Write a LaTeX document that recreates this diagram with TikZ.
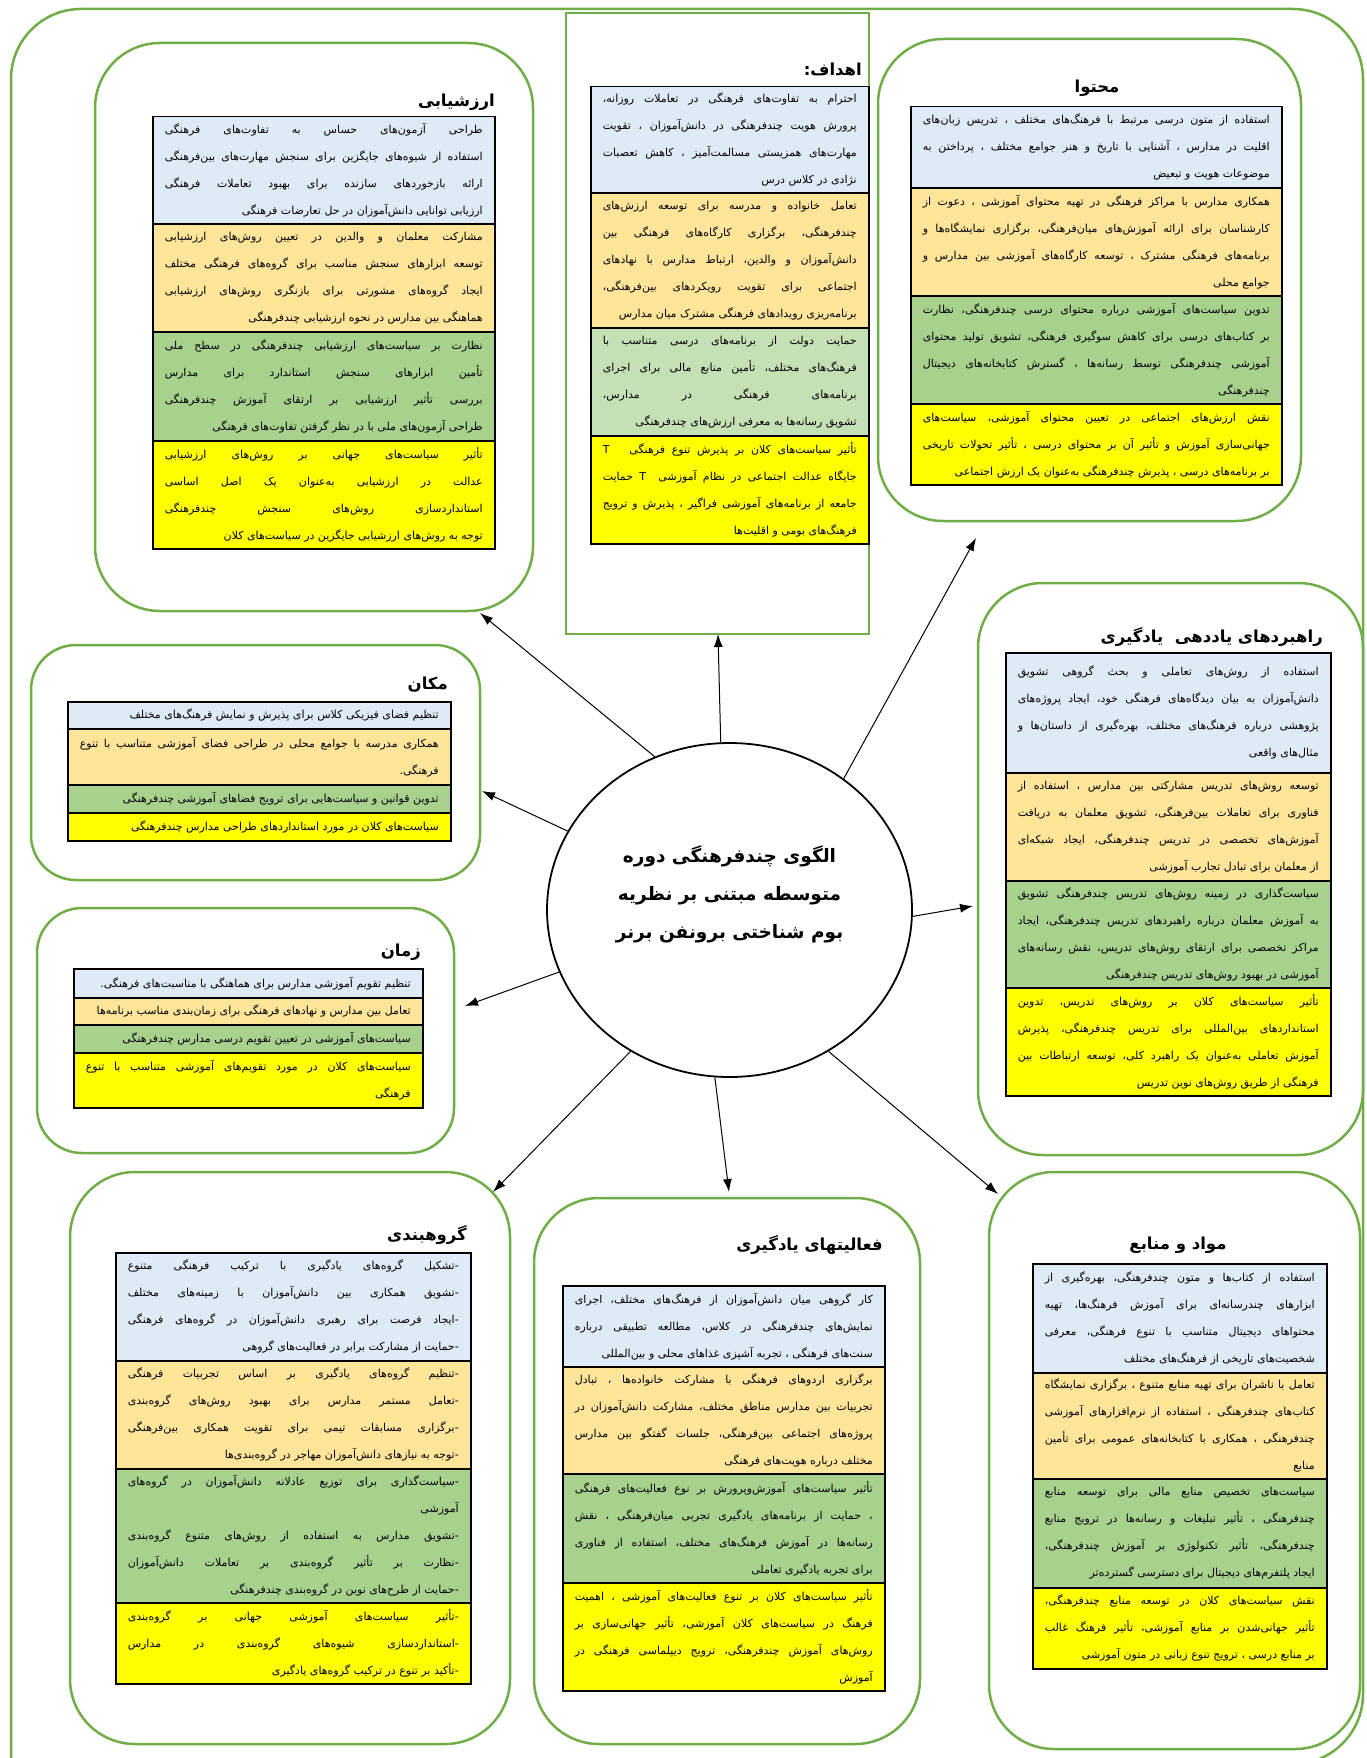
\documentclass[tikz,border=0pt]{standalone}
\usepackage{fontspec}
\usepackage{tikz}
\usetikzlibrary{arrows.meta, shapes.geometric, positioning}
\TeXXeTstate=1
\newfontfamily\fafont[Script=Arabic]{DejaVu Sans}
\definecolor{bandblue}{RGB}{222,235,247}
\definecolor{bandorange}{RGB}{255,229,153}
\definecolor{bandgreen}{RGB}{169,209,142}
\definecolor{bandlightgreen}{RGB}{197,224,180}
\definecolor{bandyellow}{RGB}{255,255,0}
\definecolor{framegreen}{RGB}{112,173,71}
\newcommand{\fabody}{\fafont\fontsize{11}{27}\selectfont}
\newcommand{\fahead}{\fafont\bfseries\fontsize{16.5}{20}\selectfont}
\newcommand{\fapar}[1]{\parfillskip=0pt\noindent\beginR #1\hskip 0pt plus 1fill\endR}
\newcommand{\faline}[1]{\beginR #1\endR}
\newcommand{\dash}{\mbox{-}}
\tikzset{
  boxframe/.style={draw=framegreen, line width=2.5pt, inner sep=0pt, rounded corners=65pt},
  band/.style={draw=black, line width=1.5pt, anchor=north west, inner xsep=12pt, inner ysep=1pt, align=justify, font=\fabody},
  head/.style={font=\fahead, inner sep=0pt},
  arrow/.style={line width=1pt, -{Latex[length=13pt,width=9pt]}}
}

\begin{document}
\begin{tikzpicture}[x=1pt, y=-1pt]
\useasboundingbox (0,0) rectangle (1367,1758);
\draw[framegreen, line width=2.5pt, rounded corners=70pt] (11,1800) |- (1363,9) |- (1200,1764);

\node[boxframe, minimum width=438pt, minimum height=568pt] (evalframe) at (314,327) {};
\node[boxframe, rounded corners=0pt, minimum width=303pt, minimum height=621pt] (goalsframe) at (717.5,323.5) {};
\node[boxframe, minimum width=423pt, minimum height=482pt] (contentframe) at (1089.5,280) {};
\node[boxframe, minimum width=385pt, minimum height=572pt] (stratframe) at (1170.5,869) {};
\node[boxframe, rounded corners=45pt, minimum width=449pt, minimum height=235pt] (placeframe) at (255.5,762.5) {};
\node[boxframe, rounded corners=45pt, minimum width=417pt, minimum height=245pt] (timeframe) at (245.5,1030.5) {};
\node[boxframe, minimum width=440pt, minimum height=572pt] (groupframe) at (290,1458) {};
\node[boxframe, minimum width=386pt, minimum height=546pt] (actframe) at (727,1471) {};
\node[boxframe, minimum width=371pt, minimum height=577pt] (resframe) at (1174.5,1460.5) {};

\node[head, anchor=east] (evaltitle) at (495,102) {\faline{ارزشیابی}};
\node[band, fill=bandblue, text width=318pt, minimum height=107pt] (eval1) at (152,116) {\fapar{طراحی آزمون^^^^200cهای حساس به تفاوت^^^^200cهای فرهنگی\linebreak استفاده از شیوه^^^^200cهای جایگزین برای سنجش مهارت^^^^200cهای بین^^^^200cفرهنگی\linebreak ارائه بازخوردهای سازنده برای بهبود تعاملات فرهنگی\linebreak ارزیابی توانایی دانش^^^^200cآموزان در حل تعارضات فرهنگی}};
\node[band, fill=bandorange, text width=318pt, minimum height=108pt] (eval2) at (152,223) {\fapar{مشارکت معلمان و والدین در تعیین روش^^^^200cهای ارزشیابی\linebreak توسعه ابزارهای سنجش مناسب برای گروه^^^^200cهای فرهنگی مختلف\linebreak ایجاد گروه^^^^200cهای مشورتی برای بازنگری روش^^^^200cهای ارزشیابی\linebreak هماهنگی بین مدارس در نحوه ارزشیابی چندفرهنگی}};
\node[band, fill=bandgreen, text width=318pt, minimum height=109pt] (eval3) at (152,331) {\fapar{نظارت بر سیاست^^^^200cهای ارزشیابی چندفرهنگی در سطح ملی\linebreak تأمین ابزارهای سنجش استاندارد برای مدارس\linebreak بررسی تأثیر ارزشیابی بر ارتقای آموزش چندفرهنگی\linebreak طراحی آزمون^^^^200cهای ملی با در نظر گرفتن تفاوت^^^^200cهای فرهنگی}};
\node[band, fill=bandyellow, text width=318pt, minimum height=108pt] (eval4) at (152,440) {\fapar{تأثیر سیاست^^^^200cهای جهانی بر روش^^^^200cهای ارزشیابی\linebreak عدالت در ارزشیابی به^^^^200cعنوان یک اصل اساسی\linebreak استانداردسازی روش^^^^200cهای سنجش چندفرهنگی\linebreak توجه به روش^^^^200cهای ارزشیابی جایگزین در سیاست^^^^200cهای کلان}};

\node[head, anchor=east] (goalstitle) at (862,70) {\faline{اهداف:}};
\node[band, fill=bandblue, text width=254pt, minimum height=106pt] (goals1) at (590,86) {\fapar{احترام به تفاوت^^^^200cهای فرهنگی در تعاملات روزانه،\linebreak پرورش هویت چندفرهنگی در دانش^^^^200cآموزان ، تقویت\linebreak مهارت^^^^200cهای همزیستی مسالمت^^^^200cآمیز ، کاهش تعصبات\linebreak نژادی در کلاس درس}};
\node[band, fill=bandorange, text width=254pt, minimum height=135pt] (goals2) at (590,192) {\fapar{تعامل خانواده و مدرسه برای توسعه ارزش^^^^200cهای\linebreak چندفرهنگی، برگزاری کارگاه^^^^200cهای فرهنگی بین\linebreak دانش^^^^200cآموزان و والدین، ارتباط مدارس با نهادهای\linebreak اجتماعی برای تقویت رویکردهای بین^^^^200cفرهنگی،\linebreak برنامه^^^^200cریزی رویدادهای فرهنگی مشترک میان مدارس}};
\node[band, fill=bandlightgreen, text width=254pt, minimum height=108pt] (goals3) at (590,327) {\fapar{حمایت دولت از برنامه^^^^200cهای درسی متناسب با\linebreak فرهنگ^^^^200cهای مختلف، تأمین منابع مالی برای اجرای\linebreak برنامه^^^^200cهای فرهنگی در مدارس،\linebreak تشویق رسانه^^^^200cها به معرفی ارزش^^^^200cهای چندفرهنگی}};
\node[band, fill=bandyellow, text width=254pt, minimum height=108pt] (goals4) at (590,435) {\fapar{تأثیر سیاست^^^^200cهای کلان بر پذیرش تنوع فرهنگی\ \ \ T\linebreak جایگاه عدالت اجتماعی در نظام آموزشی\ \ T حمایت\linebreak جامعه از برنامه^^^^200cهای آموزشی فراگیر ، پذیرش و ترویج\linebreak فرهنگ^^^^200cهای بومی و اقلیت^^^^200cها}};

\node[head] (contenttitle) at (1097,88) {\faline{محتوا}};
\node[band, fill=bandblue, text width=347pt, minimum height=81pt] (content1) at (910,106) {\fapar{استفاده از متون درسی مرتبط با فرهنگ^^^^200cهای مختلف ، تدریس زبان^^^^200cهای\linebreak اقلیت در مدارس ، آشنایی با تاریخ و هنر جوامع مختلف ، پرداختن به\linebreak موضوعات هویت و تبعیض}};
\node[band, fill=bandorange, text width=347pt, minimum height=108pt] (content2) at (910,187) {\fapar{همکاری مدارس با مراکز فرهنگی در تهیه محتوای آموزشی ، دعوت از\linebreak کارشناسان برای ارائه آموزش^^^^200cهای میان^^^^200cفرهنگی، برگزاری نمایشگاه^^^^200cها و\linebreak برنامه^^^^200cهای فرهنگی مشترک ، توسعه کارگاه^^^^200cهای آموزشی بین مدارس و\linebreak جوامع محلی}};
\node[band, fill=bandgreen, text width=347pt, minimum height=108pt] (content3) at (910,295) {\fapar{تدوین سیاست^^^^200cهای آموزشی درباره محتوای درسی چندفرهنگی، نظارت\linebreak بر کتاب^^^^200cهای درسی برای کاهش سوگیری فرهنگی، تشویق تولید محتوای\linebreak آموزشی چندفرهنگی توسط رسانه^^^^200cها ، گسترش کتابخانه^^^^200cهای دیجیتال\linebreak چندفرهنگی}};
\node[band, fill=bandyellow, text width=347pt, minimum height=81pt] (content4) at (910,403) {\fapar{نقش ارزش^^^^200cهای اجتماعی در تعیین محتوای آموزشی، سیاست^^^^200cهای\linebreak جهانی^^^^200cسازی آموزش و تأثیر آن بر محتوای درسی ، تأثیر تحولات تاریخی\linebreak بر برنامه^^^^200cهای درسی ، پذیرش چندفرهنگی به^^^^200cعنوان یک ارزش اجتماعی}};

\node[head, anchor=east] (strattitle) at (1323,637) {\faline{راهبردهای یاددهی\ \ یادگیری}};
\node[band, fill=bandblue, text width=301pt, minimum height=120pt] (strat1) at (1005,652) {\fapar{استفاده از روش^^^^200cهای تعاملی و بحث گروهی تشویق\linebreak دانش^^^^200cآموزان به بیان دیدگاه^^^^200cهای فرهنگی خود، ایجاد پروژه^^^^200cهای\linebreak پژوهشی درباره فرهنگ^^^^200cهای مختلف، بهره^^^^200cگیری از داستان^^^^200cها و\linebreak مثال^^^^200cهای واقعی}};
\node[band, fill=bandorange, text width=301pt, minimum height=108pt] (strat2) at (1005,772) {\fapar{توسعه روش^^^^200cهای تدریس مشارکتی بین مدارس ، استفاده از\linebreak فناوری برای تعاملات بین^^^^200cفرهنگی، تشویق معلمان به دریافت\linebreak آموزش^^^^200cهای تخصصی در تدریس چندفرهنگی، ایجاد شبکه^^^^200cای\linebreak از معلمان برای تبادل تجارب آموزشی}};
\node[band, fill=bandgreen, text width=301pt, minimum height=107pt] (strat3) at (1005,880) {\fapar{سیاست^^^^200cگذاری در زمینه روش^^^^200cهای تدریس چندفرهنگی تشویق\linebreak به آموزش معلمان درباره راهبردهای تدریس چندفرهنگی، ایجاد\linebreak مراکز تخصصی برای ارتقای روش^^^^200cهای تدریس، نقش رسانه^^^^200cهای\linebreak آموزشی در بهبود روش^^^^200cهای تدریس چندفرهنگی}};
\node[band, fill=bandyellow, text width=301pt, minimum height=108pt] (strat4) at (1005,987) {\fapar{تأثیر سیاست^^^^200cهای کلان بر روش^^^^200cهای تدریس، تدوین\linebreak استانداردهای بین^^^^200cالمللی برای تدریس چندفرهنگی، پذیرش\linebreak آموزش تعاملی به^^^^200cعنوان یک راهبرد کلی، توسعه ارتباطات بین\linebreak فرهنگی از طریق روش^^^^200cهای نوین تدریس}};

\node[head, anchor=east] (placetitle) at (448,685) {\faline{مکان}};
\node[band, fill=bandblue, text width=359pt, minimum height=27pt] (place1) at (67,701) {\fapar{تنظیم فضای فیزیکی کلاس برای پذیرش و نمایش فرهنگ^^^^200cهای مختلف}};
\node[band, fill=bandorange, text width=359pt, minimum height=56pt] (place2) at (67,728) {\fapar{همکاری مدرسه با جوامع محلی در طراحی فضای آموزشی متناسب با تنوع\linebreak فرهنگی.}};
\node[band, fill=bandgreen, text width=359pt, minimum height=28pt] (place3) at (67,784) {\fapar{تدوین قوانین و سیاست^^^^200cهایی برای ترویج فضاهای آموزشی چندفرهنگی}};
\node[band, fill=bandyellow, text width=359pt, minimum height=28pt] (place4) at (67,812) {\fapar{سیاست^^^^200cهای کلان در مورد استانداردهای طراحی مدارس چندفرهنگی}};

\node[head, anchor=east] (timetitle) at (421,952) {\faline{زمان}};
\node[band, fill=bandblue, text width=325pt, minimum height=29pt] (time1) at (73,968) {\fapar{تنظیم تقویم آموزشی مدارس برای هماهنگی با مناسبت^^^^200cهای فرهنگی.}};
\node[band, fill=bandorange, text width=325pt, minimum height=27pt] (time2) at (73,997) {\fapar{تعامل بین مدارس و نهادهای فرهنگی برای زمان^^^^200cبندی مناسب برنامه^^^^200cها}};
\node[band, fill=bandgreen, text width=325pt, minimum height=28pt] (time3) at (73,1024) {\fapar{سیاست^^^^200cهای آموزشی در تعیین تقویم درسی مدارس چندفرهنگی}};
\node[band, fill=bandyellow, text width=325pt, minimum height=55pt] (time4) at (73,1052) {\fapar{سیاست^^^^200cهای کلان در مورد تقویم^^^^200cهای آموزشی متناسب با تنوع\linebreak فرهنگی}};

\node[head, anchor=east] (grouptitle) at (467,1235) {\faline{گروهبندی}};
\node[band, fill=bandblue, text width=331pt, minimum height=108pt] (group1) at (115,1252) {\fapar{\dash تشکیل گروه^^^^200cهای یادگیری با ترکیب فرهنگی متنوع\linebreak \dash تشویق همکاری بین دانش^^^^200cآموزان با زمینه^^^^200cهای مختلف\linebreak \dash ایجاد فرصت برای رهبری دانش^^^^200cآموزان در گروه^^^^200cهای فرهنگی\linebreak \dash حمایت از مشارکت برابر در فعالیت^^^^200cهای گروهی}};
\node[band, fill=bandorange, text width=331pt, minimum height=108pt] (group2) at (115,1360) {\fapar{\dash تنظیم گروه^^^^200cهای یادگیری بر اساس تجربیات فرهنگی\linebreak \dash تعامل مستمر مدارس برای بهبود روش^^^^200cهای گروه^^^^200cبندی\linebreak \dash برگزاری مسابقات تیمی برای تقویت همکاری بین^^^^200cفرهنگی\linebreak \dash توجه به نیازهای دانش^^^^200cآموزان مهاجر در گروه^^^^200cبندی^^^^200cها}};
\node[band, fill=bandgreen, text width=331pt, minimum height=134pt] (group3) at (115,1468) {\fapar{\dash سیاست^^^^200cگذاری برای توزیع عادلانه دانش^^^^200cآموزان در گروه^^^^200cهای\linebreak آموزشی\hskip 0pt plus 1fill\kern0pt\linebreak \dash تشویق مدارس به استفاده از روش^^^^200cهای متنوع گروه^^^^200cبندی\linebreak \dash نظارت بر تأثیر گروه^^^^200cبندی بر تعاملات دانش^^^^200cآموزان\linebreak \dash حمایت از طرح^^^^200cهای نوین در گروه^^^^200cبندی چندفرهنگی}};
\node[band, fill=bandyellow, text width=331pt, minimum height=81pt] (group4) at (115,1602) {\fapar{\dash تأثیر سیاست^^^^200cهای آموزشی جهانی بر گروه^^^^200cبندی\linebreak \dash استانداردسازی شیوه^^^^200cهای گروه^^^^200cبندی در مدارس\linebreak \dash تأکید بر تنوع در ترکیب گروه^^^^200cهای یادگیری}};

\node[head, anchor=east] (acttitle) at (883,1245) {\faline{فعالیتهای یادگیری}};
\node[band, fill=bandblue, text width=298pt, minimum height=81pt] (act1) at (562,1285) {\fapar{کار گروهی میان دانش^^^^200cآموزان از فرهنگ^^^^200cهای مختلف، اجرای\linebreak نمایش^^^^200cهای چندفرهنگی در کلاس، مطالعه تطبیقی درباره\linebreak سنت^^^^200cهای فرهنگی ، تجربه آشپزی غذاهای محلی و بین^^^^200cالمللی}};
\node[band, fill=bandorange, text width=298pt, minimum height=107pt] (act2) at (562,1366) {\fapar{برگزاری اردوهای فرهنگی با مشارکت خانواده^^^^200cها ، تبادل\linebreak تجربیات بین مدارس مناطق مختلف، مشارکت دانش^^^^200cآموزان در\linebreak پروژه^^^^200cهای اجتماعی بین^^^^200cفرهنگی، جلسات گفتگو بین مدارس\linebreak مختلف درباره هویت^^^^200cهای فرهنگی}};
\node[band, fill=bandgreen, text width=298pt, minimum height=109pt] (act3) at (562,1473) {\fapar{تأثیر سیاست^^^^200cهای آموزش^^^^200cوپرورش بر نوع فعالیت^^^^200cهای فرهنگی\linebreak ، حمایت از برنامه^^^^200cهای یادگیری تجربی میان^^^^200cفرهنگی ، نقش\linebreak رسانه^^^^200cها در آموزش فرهنگ^^^^200cهای مختلف، استفاده از فناوری\linebreak برای تجربه یادگیری تعاملی}};
\node[band, fill=bandyellow, text width=298pt, minimum height=108pt] (act4) at (562,1582) {\fapar{تأثیر سیاست^^^^200cهای کلان بر تنوع فعالیت^^^^200cهای آموزشی ، اهمیت\linebreak فرهنگ در سیاست^^^^200cهای کلان آموزشی، تأثیر جهانی^^^^200cسازی بر\linebreak روش^^^^200cهای آموزش چندفرهنگی، ترویج دیپلماسی فرهنگی در\linebreak آموزش}};

\node[head] (restitle) at (1178,1245) {\faline{مواد و منابع}};
\node[band, fill=bandblue, text width=270pt, minimum height=109pt] (res1) at (1032,1263) {\fapar{استفاده از کتاب^^^^200cها و متون چندفرهنگی، بهره^^^^200cگیری از\linebreak ابزارهای چندرسانه^^^^200cای برای آموزش فرهنگ^^^^200cها، تهیه\linebreak محتواهای دیجیتال متناسب با تنوع فرهنگی، معرفی\linebreak شخصیت^^^^200cهای تاریخی از فرهنگ^^^^200cهای مختلف}};
\node[band, fill=bandorange, text width=270pt, minimum height=106pt] (res2) at (1032,1372) {\fapar{تعامل با ناشران برای تهیه منابع متنوع ، برگزاری نمایشگاه\linebreak کتاب^^^^200cهای چندفرهنگی ، استفاده از نرم^^^^200cافزارهای آموزشی\linebreak چندفرهنگی ، همکاری با کتابخانه^^^^200cهای عمومی برای تأمین\linebreak منابع}};
\node[band, fill=bandgreen, text width=270pt, minimum height=109pt] (res3) at (1032,1478) {\fapar{سیاست^^^^200cهای تخصیص منابع مالی برای توسعه منابع\linebreak چندفرهنگی ، تأثیر تبلیغات و رسانه^^^^200cها در ترویج منابع\linebreak چندفرهنگی، تأثیر تکنولوژی بر آموزش چندفرهنگی،\linebreak ایجاد پلتفرم^^^^200cهای دیجیتال برای دسترسی گسترده^^^^200cتر}};
\node[band, fill=bandyellow, text width=270pt, minimum height=81pt] (res4) at (1032,1587) {\fapar{نقش سیاست^^^^200cهای کلان در توسعه منابع چندفرهنگی،\linebreak تأثیر جهانی^^^^200cشدن بر منابع آموزشی، تأثیر فرهنگ غالب\linebreak بر منابع درسی ، ترویج تنوع زبانی در متون آموزشی}};

\node[draw, ellipse, line width=1.8pt, fill=white, inner sep=0pt, minimum width=365pt, minimum height=334pt] (centre) at (729.5,910) {};
\node[font=\fafont\bfseries\fontsize{18.5}{38}\selectfont, align=center] (centretitle) at (729.5,894) {\faline{الگوی چندفرهنگی دوره}\\ \faline{متوسطه مبتنی بر نظریه}\\ \faline{بوم شناختی برونفن برنر}};

\coordinate (evaltip) at (480,613);
\coordinate (goalstip) at (718,634);
\coordinate (contenttip) at (976,538);
\coordinate (strattip) at (973,906);
\coordinate (placetip) at (482,791);
\coordinate (timetip) at (465,1006);
\coordinate (grouptip) at (493,1192);
\coordinate (acttip) at (729,1192);
\coordinate (restip) at (998,1194);
\draw[arrow] (centre.116) -- (evaltip);
\draw[arrow] (centre.93.5) -- (goalstip);
\draw[arrow] (centre.49.6) -- (contenttip);
\draw[arrow] (centre.-2.2) -- (strattip);
\draw[arrow] (centre.154.6) -- (placetip);
\draw[arrow] (centre.200.1) -- (timetip);
\draw[arrow] (centre.235.8) -- (grouptip);
\draw[arrow] (centre.265.7) -- (acttip);
\draw[arrow] (centre.305.2) -- (restip);
\end{tikzpicture}
\end{document}
